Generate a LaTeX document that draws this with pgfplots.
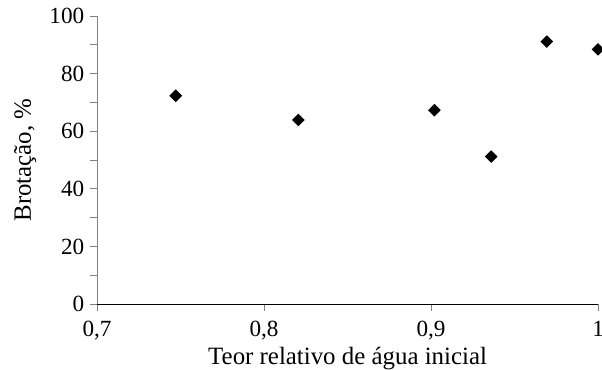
\documentclass[border=0pt]{standalone}
\usepackage{fontspec}
\setmainfont{Liberation Serif}
\usepackage{pgfplots}
\pgfplotsset{compat=1.18}
\begin{document}
\begin{tikzpicture}
\begin{axis}[
  name=ax,
  scale only axis,
  width=292pt, height=168pt,
  xmin=0.7, xmax=1.0, ymin=0, ymax=100,
  axis lines*=left,
  x axis line style={black, line width=0.6pt},
  y axis line style={gray, line width=0.6pt},
  tick align=outside,
  major tick length=4pt, minor tick length=4pt,
  every tick/.style={gray, line width=0.5pt},
  xtick={0.7,0.8,0.9,1.0},
  xticklabels={{0,7},{0,8},{0,9},{1}},
  ytick={0,20,40,60,80,100},
  minor ytick={10,30,50,70,90},
  /pgf/number format/assume math mode=true,
  tick label style={font=\fontsize{13.5}{15}\selectfont},
  xticklabel style={yshift=-2.5pt},
  label style={font=\fontsize{14.5}{16}\selectfont},
  xlabel={Teor relativo de água inicial},
  ylabel={Brotação, \%},
  xlabel style={at={([yshift=-31.5pt]axis description cs:0.5,0)}, anchor=center},
  ylabel style={at={([xshift=-42pt]axis description cs:0,0.5)}, anchor=center},
  clip=false,
]
\addplot[only marks, mark=square*, mark size=2.4pt, mark options={black, fill=black, rotate=45}]
coordinates {
(0.7471,72.3)
(0.8205,63.9)
(0.902,67.3)
(0.936,51.2)
(0.9693,91.1)
(1.0,88.4)
};
\end{axis}
\pgfresetboundingbox
\path ([xshift=-56.6pt, yshift=-38.2pt]ax.south west) rectangle ([xshift=2.3pt, yshift=9.3pt]ax.north east);
\end{tikzpicture}
\end{document}
